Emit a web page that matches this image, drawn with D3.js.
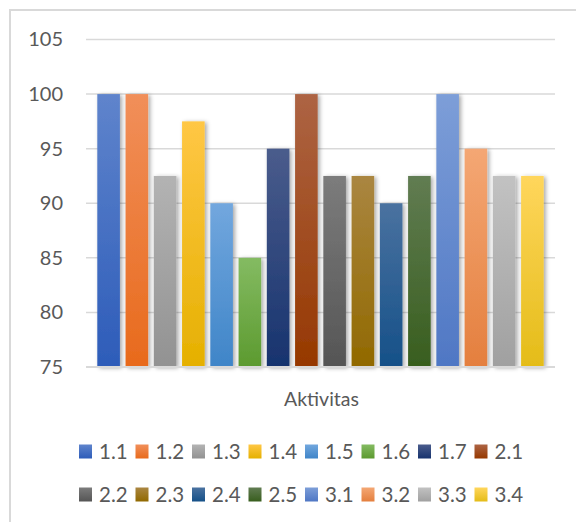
<!DOCTYPE html>
<html>
<head>
<meta charset="utf-8">
<script src="https://cdn.jsdelivr.net/npm/d3@7"></script>
<style>
  html, body { margin: 0; padding: 0; background: #fff; }
  svg { display: block; }
  text { font-family: Lato, "Open Sans", sans-serif; fill: #595959; }
</style>
</head>
<body>
<svg id="chart" width="576" height="522"></svg>
<script>
// Series names (one bar each, all in a single category)
const seriesNames = ["1.1","1.2","1.3","1.4","1.5","1.6","1.7","2.1",
                     "2.2","2.3","2.4","2.5","3.1","3.2","3.3","3.4"];
const seriesValues = [100, 100, 92.5, 97.5, 90, 85, 95, 100,
                      92.5, 92.5, 90, 92.5, 100, 95, 92.5, 92.5];
const categoryLabel = "Aktivitas";
const yTicks = [75, 80, 85, 90, 95, 100, 105];
// Gradient stops per series: [top, bottom]
const seriesColors = [
  ["#5f84cc", "#2d5cb9"], ["#f18f5a", "#e86a1c"], ["#b3b3b3", "#929292"], ["#ffc745", "#e5b000"],
  ["#72a7de", "#3f85c8"], ["#84bb62", "#5c9a2f"], ["#4a5c8c", "#17336e"], ["#ad6444", "#963800"],
  ["#7c7c7c", "#555555"], ["#aa8641", "#916900"], ["#4a72a0", "#155088"], ["#617c52", "#385e1e"],
  ["#7d9ed8", "#4f77c4"], ["#f4a774", "#e47f3e"], ["#c2c2c2", "#a0a0a0"], ["#ffd65c", "#e4bc18"]
];

const svg = d3.select("#chart");
const defs = svg.append("defs");

seriesColors.forEach((c, i) => {
  const g = defs.append("linearGradient")
    .attr("id", "grad" + i).attr("x1", 0).attr("y1", 0).attr("x2", 0).attr("y2", 1);
  g.append("stop").attr("offset", "0%").attr("stop-color", c[0]);
  g.append("stop").attr("offset", "100%").attr("stop-color", c[1]);
});

const shadow = defs.append("filter").attr("id", "shadow")
  .attr("x", "-30%").attr("y", "-10%").attr("width", "160%").attr("height", "120%");
shadow.append("feDropShadow")
  .attr("dx", 2).attr("dy", 1).attr("stdDeviation", 2)
  .attr("flood-color", "#000").attr("flood-opacity", 0.35);

// Chart frame
svg.append("rect")
  .attr("x", 10).attr("y", 10).attr("width", 580).attr("height", 530)
  .attr("fill", "none").attr("stroke", "#d9d9d9").attr("stroke-width", 2);

const plot = { left: 86, right: 555, top: 39.5, bottom: 367 };

const y = d3.scaleLinear().domain([75, 105]).range([plot.bottom, plot.top]);
const x = d3.scaleBand().domain(seriesNames)
  .range([plot.left, plot.right]).paddingInner(0.2).paddingOuter(0.4);

// Horizontal gridlines
svg.append("g").selectAll("line").data(yTicks).join("line")
  .attr("x1", plot.left).attr("x2", plot.right)
  .attr("y1", d => y(d)).attr("y2", d => y(d))
  .attr("stroke", "#d9d9d9").attr("stroke-width", 1.5);

// Y axis labels
const yAxis = d3.axisLeft(y).tickValues(yTicks).tickSize(0).tickPadding(0);
const yg = svg.append("g").attr("transform", `translate(63,0)`).call(yAxis);
yg.select(".domain").remove();
yg.selectAll("text").attr("font-size", 20).attr("fill", "#595959")
  .style("font-family", "Lato, 'Open Sans', sans-serif");

// Bars
svg.append("g").selectAll("rect").data(seriesValues).join("rect")
  .attr("x", (d, i) => x(seriesNames[i]))
  .attr("width", x.bandwidth())
  .attr("y", d => y(d))
  .attr("height", d => y(75) - y(d))
  .attr("fill", (d, i) => `url(#grad${i})`)
  .attr("filter", "url(#shadow)");

// Category axis line
svg.append("line")
  .attr("x1", plot.left).attr("x2", plot.right)
  .attr("y1", y(75)).attr("y2", y(75))
  .attr("stroke", "#d9d9d9").attr("stroke-width", 2);

// Category label
svg.append("text")
  .attr("x", (plot.left + plot.right) / 2 + 1).attr("y", 406)
  .attr("text-anchor", "middle").attr("font-size", 19.5)
  .text(categoryLabel);

// Legend: two rows of eight
const perRow = 8;
const legendX0 = 79, legendStep = 56.5;
const legendRows = [451.5, 494.5];
const legend = svg.append("g").selectAll("g").data(seriesNames).join("g")
  .attr("transform", (d, i) =>
    `translate(${legendX0 + (i % perRow) * legendStep},${legendRows[Math.floor(i / perRow)]})`);
legend.append("rect")
  .attr("x", 0).attr("y", -7).attr("width", 13).attr("height", 14)
  .attr("fill", (d, i) => `url(#grad${i})`);
legend.append("text")
  .attr("x", 20).attr("y", 0).attr("dy", "0.36em")
  .attr("font-size", 20.5)
  .text(d => d);
</script>
</body>
</html>
